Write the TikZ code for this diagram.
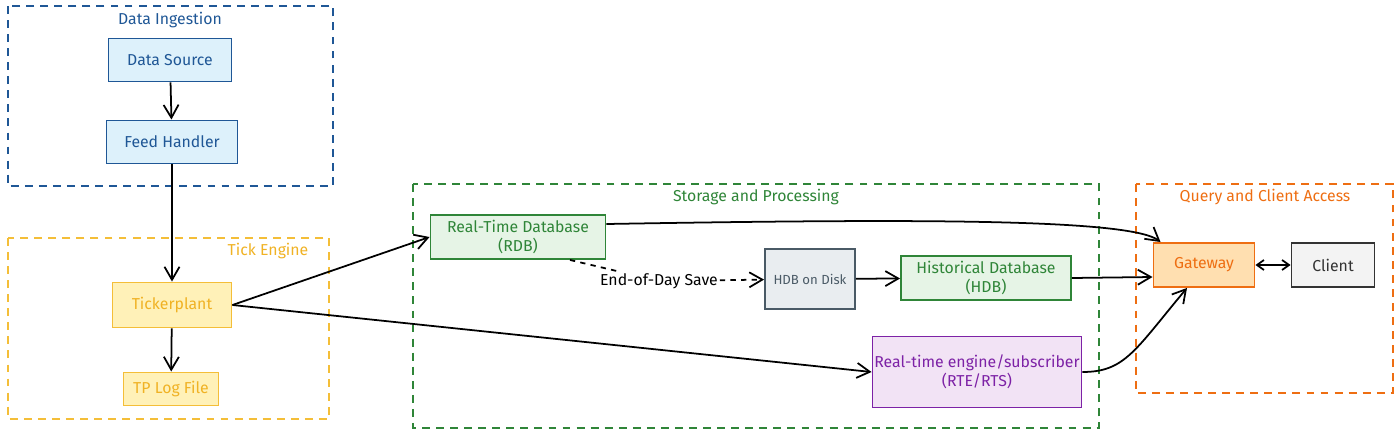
\documentclass[tikz,border=0pt]{standalone}
\usepackage{fontspec}
\setmainfont{Fira Sans}
\usetikzlibrary{arrows.meta}

\definecolor{inkblue}{HTML}{1F5796}
\definecolor{fillblue}{HTML}{DDF1FB}
\definecolor{inkyellow}{HTML}{F4BE38}
\definecolor{txtyellow}{HTML}{F0B224}
\definecolor{fillyellow}{HTML}{FFF1B8}
\definecolor{inkgreen}{HTML}{2F8538}
\definecolor{fillgreen}{HTML}{E6F4E6}
\definecolor{inkgrey}{HTML}{4A5A66}
\definecolor{fillgrey}{HTML}{E9EDF0}
\definecolor{inkpurple}{HTML}{7D22A6}
\definecolor{fillpurple}{HTML}{F2E3F5}
\definecolor{inkorange}{HTML}{EE6E12}
\definecolor{fillorange}{HTML}{FFDFB0}
\definecolor{inkdark}{HTML}{333333}
\definecolor{filllight}{HTML}{F3F3F3}

\begin{document}
\begin{tikzpicture}[x=0.02cm, y=-0.02cm, font=\fontsize{9}{11}\selectfont,
    box/.style={draw, rectangle, line width=1.1pt, inner sep=0pt, align=center},
    group/.style={line width=1pt, dash pattern=on 4.5pt off 3.5pt},
    arr/.style={-{Straight Barb[length=2.6mm,width=3mm]}, line width=1pt},
    title/.style={inner sep=1pt}]
  \useasboundingbox (0,0) rectangle (1400,436);

  % groups
  \draw[group, inkblue] (8,6) rectangle (333,186);
  \node[title, text=inkblue] (tingest) at (170,20) {Data Ingestion};
  \draw[group, inkyellow] (8,238) rectangle (329,419);
  \node[title, text=txtyellow] (ttick) at (268,251) {Tick Engine};
  \draw[group, inkgreen] (413,184) rectangle (1099,428);
  \node[title, text=inkgreen] (tstore) at (756,197) {Storage and Processing};
  \draw[group, inkorange] (1136,184) rectangle (1393,393);
  \node[title, text=inkorange] (tquery) at (1265,197) {Query and Client Access};

  % boxes
  \node[box, draw=inkblue, fill=fillblue, text=inkblue, minimum width=2.46cm, minimum height=0.86cm]
    (source) at (170,60) {Data Source};
  \node[box, draw=inkblue, fill=fillblue, text=inkblue, minimum width=2.62cm, minimum height=0.86cm]
    (feed) at (172,142) {Feed Handler};
  \node[box, draw=inkyellow, fill=fillyellow, text=txtyellow, minimum width=2.38cm, minimum height=0.90cm]
    (tp) at (172,305) {Tickerplant};
  \node[box, draw=inkyellow, fill=fillyellow, text=txtyellow, minimum width=1.90cm, minimum height=0.66cm]
    (tplog) at (171,389) {TP Log File};
  \node[box, draw=inkgreen, fill=fillgreen, text=inkgreen, minimum width=3.50cm, minimum height=0.88cm]
    (rdb) at (518,237) {Real-Time Database\\(RDB)};
  \node[box, draw=inkgrey, fill=fillgrey, text=inkgrey, minimum width=1.80cm, minimum height=1.20cm,
        font=\fontsize{7.5}{9}\selectfont]
    (disk) at (810,279) {HDB on Disk};
  \node[box, draw=inkgreen, fill=fillgreen, text=inkgreen, minimum width=3.40cm, minimum height=0.88cm]
    (hdb) at (986,278) {Historical Database\\(HDB)};
  \node[box, draw=inkpurple, fill=fillpurple, text=inkpurple, minimum width=4.18cm, minimum height=1.42cm]
    (rte) at (977,372) {Real-time engine/subscriber\\(RTE/RTS)};
  \node[box, draw=inkorange, fill=fillorange, text=inkorange, minimum width=2.02cm, minimum height=0.88cm]
    (gw) at (1204,265) {Gateway};
  \node[box, draw=inkdark, fill=filllight, text=inkdark, minimum width=1.66cm, minimum height=0.88cm]
    (client) at (1333,265) {Client};
  \node[fill=white, inner sep=1pt] (eod) at (659,281) {End-of-Day Save};

  % connectors
  \draw[arr] (source) -- (feed);
  \draw[arr] (feed) -- (tp);
  \draw[arr] (tp) -- (tplog);
  \draw[arr] (tp.east) -- (rdb.west);
  \draw[arr] (tp.east) -- (rte.west);
  \draw[arr] ([yshift=0.26cm]rdb.east) .. controls (900,219) and (1130,218) .. ([xshift=0.16cm]gw.north west);
  \draw[line width=1pt, dashed] ([xshift=1.04cm]rdb.south) -- (eod);
  \draw[arr, dashed] (eod) -- (disk);
  \draw[arr] (disk) -- (hdb);
  \draw[arr] (hdb.east) -- ([yshift=-0.24cm]gw.west);
  \draw[arr] (rte.east) .. controls (1125,372) and (1135,350) .. ([xshift=-0.34cm]gw.south);
  \draw[{Straight Barb[length=1.4mm,width=2mm]}-{Straight Barb[length=1.4mm,width=2mm]}, line width=1pt]
    (gw) -- (client);
\end{tikzpicture}
\end{document}
